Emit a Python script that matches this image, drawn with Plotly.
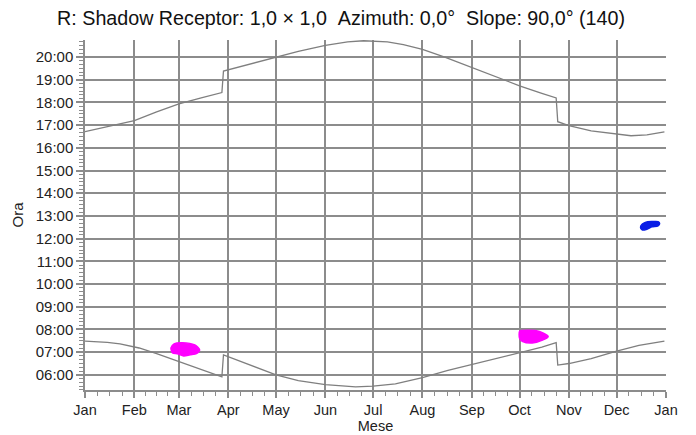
import plotly.graph_objects as go
import pandas as pd

# ---- data (year 2015, DST 29 Mar / 25 Oct) ----
lower_dates = ["2015-01-01", "2015-01-15", "2015-01-23", "2015-02-04", "2015-02-15", "2015-03-01",
               "2015-03-15", "2015-03-28", "2015-03-29", "2015-04-10", "2015-04-21", "2015-05-01",
               "2015-05-15", "2015-06-01", "2015-06-20", "2015-07-01", "2015-07-15", "2015-08-01",
               "2015-08-17", "2015-09-01", "2015-09-15", "2015-10-01", "2015-10-15", "2015-10-24",
               "2015-10-25", "2015-11-01", "2015-11-15", "2015-12-01", "2015-12-15", "2015-12-31"]
lower_times = ["07:29", "07:26", "07:22", "07:11", "06:56", "06:35",
               "06:14", "05:55", "06:53", "06:33", "06:15", "06:00",
               "05:45", "05:34", "05:28", "05:30", "05:36", "05:53",
               "06:12", "06:27", "06:42", "06:58", "07:13", "07:25",
               "06:26", "06:30", "06:43", "07:03", "07:18", "07:29"]

upper_dates = ["2015-01-01", "2015-01-23", "2015-02-01", "2015-02-15", "2015-03-01", "2015-03-15",
               "2015-03-28", "2015-03-29", "2015-04-15", "2015-05-01", "2015-05-15", "2015-06-01",
               "2015-06-15", "2015-06-25", "2015-07-10", "2015-07-20", "2015-08-01", "2015-08-15",
               "2015-09-01", "2015-09-15", "2015-10-01", "2015-10-15", "2015-10-24", "2015-10-25",
               "2015-11-01", "2015-11-15", "2015-12-01", "2015-12-10", "2015-12-20", "2015-12-31"]
upper_times = ["16:43", "17:03", "17:12", "17:35", "17:56", "18:12",
               "18:26", "19:23", "19:42", "20:00", "20:15", "20:31",
               "20:40", "20:43", "20:40", "20:33", "20:20", "20:00",
               "19:33", "19:09", "18:44", "18:24", "18:12", "17:09",
               "16:59", "16:45", "16:36", "16:32", "16:34", "16:42"]

# shadow flicker areas (outlines)
blob1_dates = ["2015-02-24", "2015-02-26", "2015-03-03", "2015-03-11", "2015-03-14",
               "2015-03-12", "2015-03-08", "2015-03-04", "2015-02-28", "2015-02-25", "2015-02-24"]
blob1_times = ["07:11", "07:22", "07:25", "07:19", "07:06",
               "06:56", "06:53", "06:50", "06:56", "06:58", "07:11"]
blob2_dates = ["2015-10-01", "2015-10-01", "2015-10-02", "2015-10-11", "2015-10-16", "2015-10-19",
               "2015-10-15", "2015-10-09", "2015-10-03", "2015-10-01"]
blob2_times = ["07:37", "07:55", "07:57", "07:57", "07:50", "07:41",
               "07:31", "07:24", "07:28", "07:37"]
blob3_dates = ["2015-12-16", "2015-12-17", "2015-12-19", "2015-12-23", "2015-12-27", "2015-12-28",
               "2015-12-27", "2015-12-23", "2015-12-20", "2015-12-17", "2015-12-16"]
blob3_times = ["12:30", "12:38", "12:43", "12:45", "12:45", "12:40",
               "12:34", "12:31", "12:25", "12:23", "12:30"]

month_labels = ["Jan", "Feb", "Mar", "Apr", "May", "Jun", "Jul", "Aug", "Sep", "Oct", "Nov", "Dec", "Jan"]
hour_ticks = list(range(6, 21))


def hrs(lst):
    return [int(t[:2]) + int(t[3:]) / 60 for t in lst]


line_col = "#7f7f7f"
grid_col = "#8c8c8c"

fig = go.Figure()
fig.add_trace(go.Scatter(x=lower_dates, y=hrs(lower_times), mode="lines",
                         line=dict(color=line_col, width=1.3), hoverinfo="skip"))
fig.add_trace(go.Scatter(x=upper_dates, y=hrs(upper_times), mode="lines",
                         line=dict(color=line_col, width=1.3), hoverinfo="skip"))
for d, t, c in [(blob1_dates, blob1_times, "#ff00ff"),
                (blob2_dates, blob2_times, "#ff00ff"),
                (blob3_dates, blob3_times, "#0a1ee6")]:
    fig.add_trace(go.Scatter(x=d, y=hrs(t), mode="lines", fill="toself", fillcolor=c,
                             line=dict(color=c, width=1.5, shape="spline", smoothing=0.8),
                             hoverinfo="skip"))

month_starts = pd.date_range("2015-01-01", "2016-01-01", freq="MS")
minor_vals = []
for i in range(len(month_starts) - 1):
    a, b = month_starts[i], month_starts[i + 1]
    for k in range(1, 4):
        minor_vals.append((a + (b - a) * k / 4).strftime("%Y-%m-%d %H:%M"))

y_minor = [h + m / 60 for h in range(5, 21) for m in (10, 20, 30, 40, 50)]
y_minor = [v for v in y_minor if 5.333 <= v <= 20.75]

fig.update_layout(
    width=696, height=435,
    margin=dict(l=85, r=30, t=40, b=45),
    paper_bgcolor="white", plot_bgcolor="white",
    showlegend=False,
    font=dict(family="Liberation Sans, Arial, sans-serif", size=15, color="#222222"),
    title=dict(text="R: Shadow Receptor: 1,0 × 1,0\u00a0\u00a0Azimuth: 0,0°\u00a0\u00a0Slope: 90,0° (140)",
               x=0.49, xanchor="center", y=0.958, yanchor="middle",
               font=dict(size=19.7, color="#111111")),
    xaxis=dict(
        type="date", range=["2015-01-01", "2016-01-01"], automargin=False,
        tickvals=[d.strftime("%Y-%m-%d") for d in month_starts], ticktext=month_labels,
        tickfont=dict(size=14.5),
        showgrid=True, gridcolor=grid_col, gridwidth=2,
        showline=True, linecolor=grid_col, linewidth=1.5,
        ticks="outside", ticklen=6, tickcolor=grid_col, tickwidth=1.5,
        minor=dict(tickmode="array", tickvals=minor_vals, ticks="outside", ticklen=4,
                   tickcolor=grid_col, tickwidth=1, showgrid=False),
        zeroline=False,
        title=dict(text="Mese", standoff=4, font=dict(size=14.5)),
    ),
    yaxis=dict(
        range=[5.333, 20.75], automargin=False,
        tickvals=hour_ticks, ticktext=["%02d:00" % h for h in hour_ticks],
        showgrid=True, gridcolor=grid_col, gridwidth=2,
        showline=True, linecolor=grid_col, linewidth=1.5,
        ticks="outside", ticklen=7, tickcolor=grid_col, tickwidth=1.5,
        minor=dict(tickmode="array", tickvals=y_minor, ticks="outside", ticklen=4,
                   tickcolor=grid_col, tickwidth=1, showgrid=False),
        zeroline=False,
        title=dict(text="Ora", standoff=8, font=dict(size=15)),
    ),
)

fig.write_html("out.html", config={"displayModeBar": False},
               post_script="document.body.style.margin='0px';")
